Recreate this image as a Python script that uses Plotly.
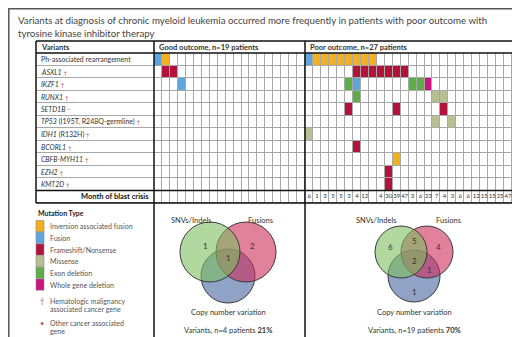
import plotly.graph_objects as go

# ---------------- data ----------------
variant_names = ["Ph-associated rearrangement", "ASXL1", "IKZF1", "RUNX1", "SETD1B", "TP53",
                 "IDH1", "BCORL1", "CBFB-MYH11", "EZH2", "KMT2D"]
variant_detail = ["", "", "", "", "", " (I195T, R248Q-germline)", " (R132H)", "", "", "", ""]
variant_mark = ["", "†", "†", "†", "*", "†", "†", "†", "†", "†", "†"]

mutation_types = ["Inversion associated fusion", "Fusion", "Frameshift/Nonsense",
                  "Missense", "Exon deletion", "Whole gene deletion"]
mutation_colors = ["#F2B01E", "#5DA5DC", "#B3133B", "#B7BE91", "#5EAE48", "#CC1480"]

n_good = 19
n_poor = 27

# (variant row, patient column, mutation type) -- good outcome patients
good_rows = [0, 0, 1, 1, 2]
good_cols = [0, 1, 1, 2, 3]
good_types = ["Fusion", "Inversion associated fusion", "Frameshift/Nonsense",
              "Frameshift/Nonsense", "Fusion"]

# poor outcome patients
poor_rows = [0, 0, 0, 0, 0, 0, 0, 0, 0,
             1, 1, 1, 1, 1, 1, 1,
             2, 2, 2, 2, 2,
             3, 3, 3,
             4, 4, 4,
             5, 5,
             6, 7, 8, 9, 10]
poor_cols = [0, 1, 2, 3, 4, 5, 6, 7, 8,
             6, 7, 8, 9, 10, 11, 12,
             5, 6, 13, 14, 15,
             6, 16, 17,
             5, 11, 17,
             16, 18,
             0, 6, 11, 10, 10]
poor_types = (["Fusion"] + ["Inversion associated fusion"] * 8
              + ["Frameshift/Nonsense"] * 7
              + ["Exon deletion", "Fusion", "Exon deletion", "Exon deletion", "Whole gene deletion"]
              + ["Exon deletion", "Missense", "Missense"]
              + ["Frameshift/Nonsense"] * 3
              + ["Missense", "Missense"]
              + ["Missense", "Frameshift/Nonsense", "Inversion associated fusion",
                 "Frameshift/Nonsense", "Frameshift/Nonsense"])

months_poor = [6, 1, 3, 5, 5, 3, 4, 12, None, 4, 30, 39, 47, 3, 6, 23, 7, 4, 3, 6, 6,
               12, 15, 15, 25, 47, 60]

venn_regions = ["SNVs/Indels only", "SNVs/Indels + Fusions", "Fusions only",
                "All three", "Fusions + CNV", "CNV only"]
venn_good = [1, None, 2, 1, None, None]
venn_poor = [6, 5, 4, 2, 1, 1]
good_summary = ("Variants, n=4 patients", "21%")
poor_summary = ("Variants, n=19 patients", "70%")

# ---------------- helpers ----------------
W, H = 520, 337
def X(px): return px / W
def Y(py): return 1 - py / H

FONT = "Lato"
TXT = "#333333"
RED = "#C0504D"

n_rows = len(variant_names) + 1  # + month row
n_cols = n_good + n_poor
z = [[0] * n_cols for _ in range(n_rows)]
for r, c, t in zip(good_rows, good_cols, good_types):
    z[r][c] = mutation_types.index(t) + 1
for r, c, t in zip(poor_rows, poor_cols, poor_types):
    z[r][n_good + c] = mutation_types.index(t) + 1

all_colors = ["#FFFFFF"] + mutation_colors
k = len(all_colors)
cs = []
for i, col in enumerate(all_colors):
    cs.append([i / k, col])
    cs.append([(i + 1) / k, col])

fig = go.Figure()
fig.add_trace(go.Heatmap(z=z, x=list(range(n_cols)), y=list(range(n_rows)),
                         colorscale=cs, zmin=-0.5, zmax=k - 0.5, showscale=False,
                         xgap=1, ygap=1, hoverinfo="skip", xaxis="x", yaxis="y"))
fig.add_trace(go.Heatmap(z=[[0] for _ in range(n_rows)], x=[0], y=list(range(n_rows)),
                         colorscale=cs, zmin=-0.5, zmax=k - 0.5, showscale=False,
                         xgap=0, ygap=1, hoverinfo="skip", xaxis="x2", yaxis="y2"))
mx = [n_good + i for i, m in enumerate(months_poor) if m is not None]
mt = [str(m) for m in months_poor if m is not None]
fig.add_trace(go.Scatter(x=mx, y=[n_rows - 1] * len(mx), text=mt, mode="text",
                         textfont=dict(family=FONT, size=6, color=TXT), cliponaxis=False,
                         hoverinfo="skip", xaxis="x", yaxis="y"))

grid_top, grid_bot = 45, 195
ax = dict(visible=False, fixedrange=True)
fig.update_layout(
    xaxis=dict(domain=[X(146), X(512)], range=[-0.5, n_cols - 0.5], **ax),
    yaxis=dict(domain=[Y(grid_bot), Y(grid_top)], range=[n_rows - 0.5, -0.5], **ax),
    xaxis2=dict(domain=[X(28), X(146)], range=[-0.5, 0.5], **ax),
    yaxis2=dict(domain=[Y(grid_bot), Y(grid_top)], range=[n_rows - 0.5, -0.5], **ax),
)

shapes = []
def line(x0, y0, x1, y1, w=1.5, c="#111111"):
    shapes.append(dict(type="line", xref="paper", yref="paper", x0=X(x0), y0=Y(y0),
                       x1=X(x1), y1=Y(y1), line=dict(color=c, width=w)))

# outer frame
shapes.append(dict(type="rect", xref="paper", yref="paper", x0=X(0.8), y0=Y(336.2),
                   x1=X(519.2), y1=Y(0.8), line=dict(color="#555555", width=1.5)))
# table borders
line(28, 33, 512, 33)
line(28, 45, 512, 45)
line(28, 33, 28, 195)
line(28, 195, 512, 195)
row_h = (grid_bot - grid_top) / n_rows
line(28, grid_top + row_h * (n_rows - 1), 512, grid_top + row_h * (n_rows - 1), w=1.3)
line(146, 33, 146, 330)
line(297, 33, 297, 330)
line(512, 33, 512, 330)
line(146, 330, 512, 330)

ann = []
def text(x, y, s, size=7.5, anchor="left", color=TXT, yref="paper", xref="paper"):
    ann.append(dict(x=X(x) if xref == "paper" else x, y=Y(y) if yref == "paper" else y,
                    xref=xref, yref=yref, text=s, showarrow=False,
                    xanchor=anchor, yanchor="middle",
                    font=dict(family=FONT, size=size, color=color)))

# title
text(8, 12, "Variants at diagnosis of chronic myeloid leukemia occurred more frequently in patients with poor outcome with",
     size=9.7, color="#444444")
text(8, 25, "tyrosine kinase inhibitor therapy", size=9.7, color="#444444")

# headers
text(31, 39.5, "<b>Variants</b>", size=7.5)
text(149, 39.5, f"<b>Good outcome, n={n_good} patients</b>", size=7.5)
text(300, 39.5, f"<b>Poor outcome, n={n_poor} patients</b>", size=7.5)

# variant labels
for i, (nm, det, mk) in enumerate(zip(variant_names, variant_detail, variant_mark)):
    name = nm if i == 0 else f"<i>{nm}</i>"
    s = name + det
    if mk:
        s += f" <span style='color:{RED};font-size:6px'>{mk}</span>"
    ann.append(dict(x=X(31), y=i, xref="paper", yref="y2", text=s, showarrow=False,
                    xanchor="left", yanchor="middle",
                    font=dict(family=FONT, size=7, color=TXT)))
ann.append(dict(x=X(143), y=n_rows - 1, xref="paper", yref="y2",
                text="<b>Month of blast crisis</b>", showarrow=False,
                xanchor="right", yanchor="middle", font=dict(family=FONT, size=7.5, color="#111")))

# legend
text(28, 205, "<b>Mutation Type</b>", size=7, color="#222")
for i, (t, c) in enumerate(zip(mutation_types, mutation_colors)):
    y0 = 212.5 + i * 11.7
    shapes.append(dict(type="rect", xref="paper", yref="paper", x0=X(28), x1=X(36),
                       y0=Y(y0 + 11.2), y1=Y(y0), fillcolor=c,
                       line=dict(color="#888888", width=0.6)))
    text(40, y0 + 5.6, t, size=7, color="#555555")
text(30, 293, "†", size=7.5, color=RED)
text(40, 292.5, "Hematologic malignancy", size=7, color="#555555")
text(40, 300.5, "associated cancer gene", size=7, color="#555555")
text(30, 315, "•", size=7.5, color=RED)
text(40, 315, "Other cancer associated", size=7, color="#555555")
text(40, 323, "gene", size=7, color="#555555")

# venn diagrams
def circle(cx, cy, r, fill):
    shapes.append(dict(type="circle", xref="paper", yref="paper",
                       x0=X(cx - r), x1=X(cx + r), y0=Y(cy + r), y1=Y(cy - r),
                       fillcolor=fill, line=dict(color="#3a3a3a", width=1)))

BLUE_F = "rgba(70,100,160,0.6)"
RED_F = "rgba(205,45,90,0.6)"
GREEN_F = "rgba(125,190,95,0.6)"

def venn(cx, sep, r, rb, counts, pos, summary):
    circle(cx, 268, rb, BLUE_F)
    circle(cx + sep / 2, 244, r, RED_F)
    circle(cx - sep / 2, 244, r, GREEN_F)
    for cnt, (px, py) in zip(counts, pos):
        if cnt is not None:
            text(px, py, str(cnt), size=8, anchor="center")
    text(cx, 304, "Copy number variation", size=7.5, anchor="center")
    text(cx, 322, f"{summary[0]} <b>{summary[1]}</b>", size=7.5, anchor="center")

text(183, 212, "SNVs/Indels", size=7.5, anchor="center")
text(252, 212, "Fusions", size=7.5, anchor="center")
venn(220, 36, 30, 27, venn_good,
     [(197, 238), (220, 228), (244, 238), (220, 250), (232, 262), (220, 284)], good_summary)

text(368, 212, "SNVs/Indels", size=7.5, anchor="center")
text(440, 212, "Fusions", size=7.5, anchor="center")
venn(406, 26, 26, 26, venn_poor,
     [(382, 239), (406, 233), (430, 239), (406, 253), (421, 262), (406, 284)], poor_summary)

fig.update_layout(width=W, height=H, margin=dict(l=0, r=0, t=0, b=0),
                  paper_bgcolor="white", plot_bgcolor="#A8A8A8",
                  showlegend=False, shapes=shapes, annotations=ann)
fig.write_html("out.html")
